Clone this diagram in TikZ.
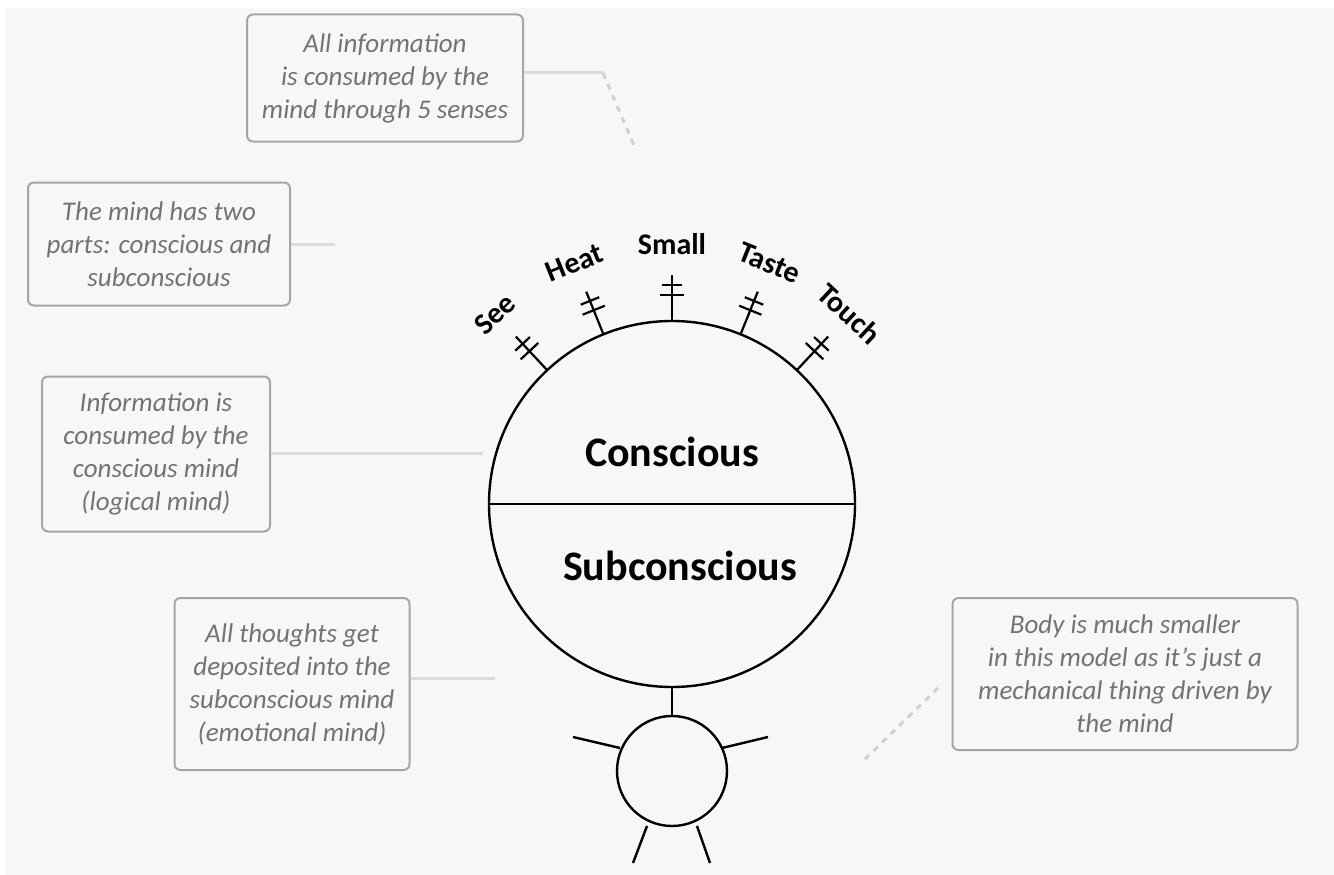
\documentclass[tikz,border=0pt]{standalone}
\usepackage{fontspec}
\setmainfont{Carlito}
\usetikzlibrary{calc}
\begin{document}
\begin{tikzpicture}[x=1pt,y=-1pt,
  note/.style={draw=black!35, line width=2pt, rounded corners=6pt, fill=white!97!black,
     align=center, text=black!55, font=\fontsize{27}{33}\selectfont\itshape, inner sep=4pt},
  link/.style={draw=black!14, line width=3pt},
  dotlink/.style={draw=black!18, line width=3pt, dash pattern=on 6pt off 6pt},
  body/.style={draw=black, line width=2.4pt},
  sense/.style={font=\fontsize{30}{34}\selectfont\bfseries, text=black, inner sep=1pt},
  mindlabel/.style={font=\fontsize{42}{46}\selectfont\bfseries, text=black}]
\useasboundingbox (0,0) rectangle (1334,875);
\fill[white] (0,0) rectangle (1334,875);
\fill[black!3] (6,8) rectangle (1334,875);

% boxes
\node[note, minimum width=276pt, minimum height=127pt] (b1) at (385,78)
  {All information\\is consumed by the\\mind through 5 senses};
\node[note, minimum width=262pt, minimum height=123pt] (b2) at (159,244)
  {The mind has two\\parts: conscious and\\subconscious};
\node[note, minimum width=228pt, minimum height=155pt] (b3) at (156,454)
  {Information is\\consumed by the\\conscious mind\\(logical mind)};
\node[note, minimum width=235pt, minimum height=172pt] (b4) at (292,684)
  {All thoughts get\\deposited into the\\subconscious mind\\(emotional mind)};
\node[note, minimum width=345pt, minimum height=152pt] (b5) at (1125,674)
  {Body is much smaller\\in this model as it's just a\\mechanical thing driven by\\the mind};

% connector endpoints
\coordinate (c1a) at (603,73);
\coordinate (c1b) at (636,150);
\coordinate (c2) at (335,244);
\coordinate (c3) at (483,453);
\coordinate (c4) at (495,678);
\coordinate (c5a) at (938,688);
\coordinate (c5b) at (862,762);

\draw[link] (b1.east |- c1a) -- (c1a);
\draw[dotlink] (c1a) -- (c1b);
\draw[link] (b2.east |- c2) -- (c2);
\draw[link] (b3.east |- c3) -- (c3);
\draw[link] (b4.east |- c4) -- (c4);
\draw[dotlink] (c5a) -- (c5b);

% mind
\coordinate (m) at (672,504);
\draw[body] (m) circle[radius=183pt];
\draw[body] (489,504) -- (855,504);
\node[mindlabel] (con) at (672,452) {Conscious};
\node[mindlabel] (sub) at (680,566) {Subconscious};

% senses
\foreach \a/\t in {133/See,112/Heat,90/Small,68/Taste,47/Touch}{
  \draw[body, line width=2.2pt] ($(m)+(\a:183 and -183)$) -- ($(m)+(\a:229 and -229)$);
  \begin{scope}[shift={(m)}, rotate=\a-90]
    \draw[body, line width=2.2pt] (-12,-209) -- (12,-209);
    \draw[body, line width=2.2pt] (-10,-219) -- (10,-219);
  \end{scope}
  \node[sense, rotate=\a-90] at ($(m)+(\a:260 and -260)$) {\t};
}

% body
\coordinate (bc) at (672,771);
\draw[body] (bc) circle[radius=55pt];
\draw[body] (672,687) -- (672,716);
\draw[body] (620,748) -- (573,737);
\draw[body] (722,748) -- (768,737);
\draw[body] (647,826) -- (633,863);
\draw[body] (697,826) -- (710,863);
\end{tikzpicture}
\end{document}
